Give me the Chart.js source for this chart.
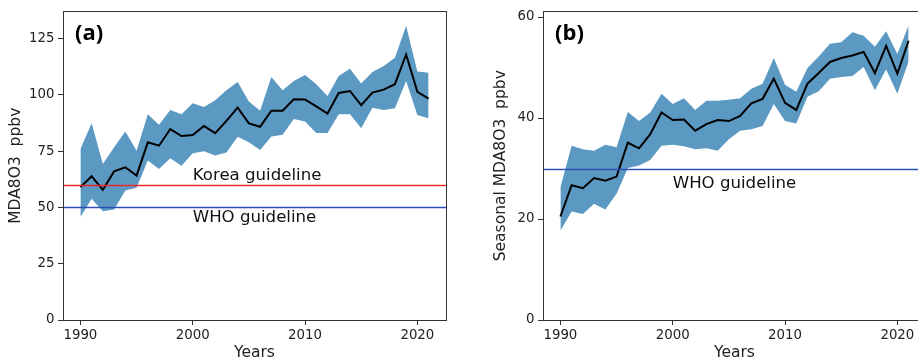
<!DOCTYPE html>
<html><head><meta charset="utf-8">
<script src="https://cdn.jsdelivr.net/npm/chart.js@4.4.1/dist/chart.umd.min.js"></script>
<style>
html,body{margin:0;padding:0;background:#fff;overflow:hidden;width:918px;height:362px;position:relative;}
#ca{position:absolute;left:0;top:0;}
#cb{position:absolute;left:470px;top:0;}
</style></head><body>
<canvas id="ca" width="458" height="362"></canvas>
<canvas id="cb" width="470" height="362"></canvas>
<script>
// ---- data ----
const years = [1990,1991,1992,1993,1994,1995,1996,1997,1998,1999,2000,2001,2002,2003,2004,2005,2006,2007,2008,2009,2010,2011,2012,2013,2014,2015,2016,2017,2018,2019,2020,2021];

const meanA  = [59.0,63.8,57.8,66.0,67.8,64.1,78.9,77.4,84.8,81.7,82.1,86.2,83.0,88.4,94.3,87.3,85.8,92.9,92.9,98.0,97.9,94.9,91.7,100.8,101.7,95.4,101.0,102.3,104.7,117.9,101.3,98.3];
const upperA = [75.9,87.4,69.3,76.7,83.7,75.2,91.4,86.7,93.3,91.4,96.3,94.6,97.6,102.0,105.7,97.0,92.9,107.9,102.0,106.1,108.8,104.7,99.5,108.3,111.6,105.0,110.1,112.8,116.5,130.7,110.3,109.8];
const lowerA = [45.7,53.8,48.3,49.1,57.5,58.7,70.8,67.1,71.8,68.5,74.0,74.9,73.0,74.4,81.4,78.9,75.5,81.5,82.3,89.2,88.1,83.0,83.0,91.4,91.4,85.2,94.3,93.2,94.0,106.1,91.0,89.6];

const meanB  = [20.5,26.7,26.1,28.1,27.6,28.4,35.1,34.0,36.8,41.1,39.6,39.7,37.5,38.8,39.6,39.4,40.4,42.9,43.8,47.8,43.0,41.6,46.8,48.9,51.1,51.9,52.4,53.1,48.9,54.3,48.8,55.3];
const upperB = [26.3,34.5,33.8,33.5,34.7,34.2,41.2,39.4,41.1,44.8,42.8,43.9,41.6,43.4,43.4,43.6,43.9,45.8,46.8,51.9,46.6,45.2,49.9,52.2,54.7,55.0,57.0,56.3,54.1,57.2,52.7,58.3];
const lowerB = [17.7,21.5,21.0,23.0,21.9,25.0,30.1,30.6,31.7,34.5,34.7,34.4,33.8,34.0,33.5,35.8,37.5,37.8,38.4,42.8,39.4,38.9,44.2,45.3,47.8,48.1,48.3,50.1,45.5,49.6,44.8,51.2];

const xTicks  = [1990,2000,2010,2020];
const yTicksA = [0,25,50,75,100,125];
const yTicksB = [0,20,40,60];

const guidesA = [
  {value:60, color:'#ea2a2a', label:'Korea guideline', lx:2000, ly:64.0},
  {value:50, color:'#2d4fb8', label:'WHO guideline',   lx:2000, ly:45.5}
];
const guidesB = [
  {value:30, color:'#2d4fb8', label:'WHO guideline',   lx:2000, ly:27.0}
];

// ---- helpers ----
const FONT = "'DejaVu Sans', sans-serif";
const pts = (ys) => years.map((x,i)=>({x:x, y:ys[i]}));

const panelPlugin = {
  id:'panel',
  afterDatasetsDraw(chart, args, opts){
    const {ctx, chartArea:a, scales:{x,y}} = chart;
    ctx.save();
    (opts.guides||[]).forEach(g=>{
      const py = Math.round(y.getPixelForValue(g.value))+0.5;
      ctx.strokeStyle = g.color; ctx.lineWidth = 1.7;
      ctx.beginPath(); ctx.moveTo(a.left, py); ctx.lineTo(a.right, py); ctx.stroke();
    });
    ctx.fillStyle = '#111';
    ctx.font = "16.6px " + FONT;
    ctx.textAlign='left'; ctx.textBaseline='middle';
    (opts.guides||[]).forEach(g=>{
      ctx.fillText(g.label, x.getPixelForValue(g.lx), y.getPixelForValue(g.ly));
    });
    // frame
    ctx.strokeStyle='#333'; ctx.lineWidth=1;
    ctx.strokeRect(Math.round(a.left)+0.5, Math.round(a.top)+0.5, Math.round(a.right-a.left), Math.round(a.bottom-a.top));
    // panel label
    ctx.font = "bold 22px 'Liberation Sans Narrow', 'Open Sans', sans-serif";
    ctx.fillStyle='#000';
    ctx.fillText(opts.tag, a.left+12, a.top+22);
    ctx.restore();
  }
};

function makeChart(id, mean, upper, lower, yMax, yTicks, yTitle, yTitlePad, yWidth, guides, tag, padRight){
  return new Chart(document.getElementById(id), {
    type:'line',
    data:{ datasets:[
      {data:pts(lower), borderWidth:0, pointRadius:0, fill:false, backgroundColor:'rgba(0,0,0,0)', order:3},
      {data:pts(upper), borderWidth:0, pointRadius:0, fill:'-1', backgroundColor:'#5b99c3', order:2},
      {data:pts(mean), borderColor:'#000', borderWidth:2, pointRadius:0, fill:false, tension:0, order:0}
    ]},
    options:{
      responsive:false, animation:false, devicePixelRatio:1,
      layout:{padding:{left:0,right:padRight,top:10,bottom:0}},
      plugins:{legend:{display:false}, tooltip:{enabled:false}, panel:{guides:guides, tag:tag}},
      scales:{
        x:{type:'linear', min:1988.45, max:2022.55,
           afterBuildTicks:(s)=>{s.ticks = xTicks.map(v=>({value:v}));},
           afterFit:(s)=>{s.height=42;},
           grid:{drawOnChartArea:false, drawTicks:true, tickLength:5, color:'#333'},
           border:{display:false},
           ticks:{color:'#222', font:{family:FONT, size:13.3}, padding:3, maxRotation:0, callback:(v)=>String(v)},
           title:{display:true, text:'Years', color:'#222', font:{family:FONT, size:15.5}, padding:{top:0,bottom:0}}
        },
        y:{type:'linear', min:0, max:yMax,
           afterBuildTicks:(s)=>{s.ticks = yTicks.map(v=>({value:v}));},
           afterFit:(s)=>{s.width = yWidth;},
           grid:{drawOnChartArea:false, drawTicks:true, tickLength:5, color:'#333'},
           border:{display:false},
           ticks:{color:'#222', font:{family:FONT, size:13.3}, padding:3.5, callback:(v)=>String(v)},
           title:{display:true, text:yTitle, color:'#222', font:{family:FONT, size:15.5}, padding:{top:yTitlePad,bottom:0}}
        }
      }
    },
    plugins:[panelPlugin]
  });
}

Chart.defaults.font.family = FONT;

makeChart('ca', meanA, upperA, lowerA, 137, yTicksA, 'MDA8O3  ppbv', 6.5, 63, guidesA, '(a)', 12);
makeChart('cb', meanB, upperB, lowerB, 61.1, yTicksB, 'Seasonal MDA8O3  ppbv', 21.5, 73, guidesB, '(b)', 14);
</script>
</body></html>
